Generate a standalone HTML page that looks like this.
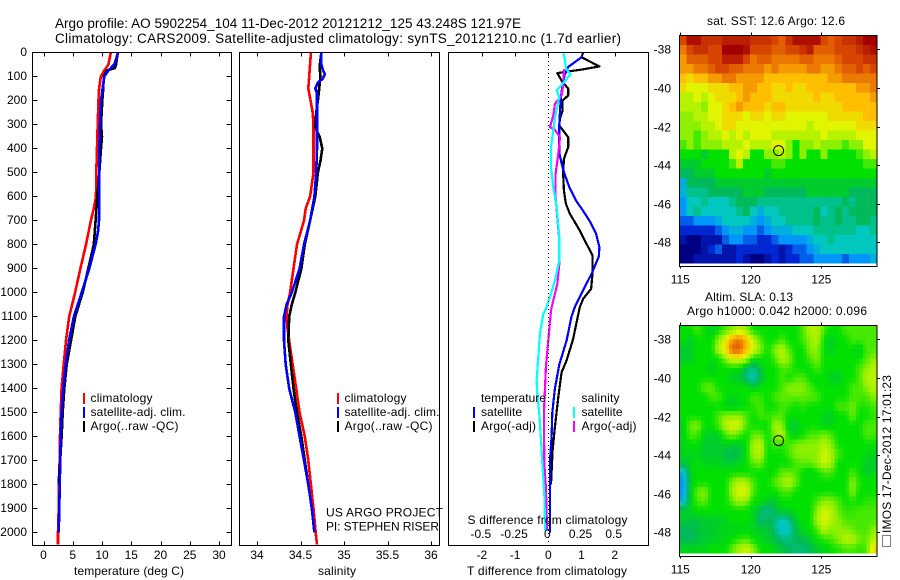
<!DOCTYPE html>
<html>
<head>
<meta charset="utf-8">
<title>Argo profile 5902254_104</title>
<style>
html,body{margin:0;padding:0;background:#fff;}
svg{display:block;font-family:"Liberation Sans",sans-serif;font-size:12px;fill:#000;}
.ttl{font-size:13.5px;}
.frame{fill:none;stroke:#000;stroke-width:1;shape-rendering:crispEdges;}
.tick{stroke:#000;stroke-width:1;shape-rendering:crispEdges;}
.ser{fill:none;stroke-width:2.6;shape-rendering:crispEdges;stroke-linejoin:round;}
.ser-diff{fill:none;stroke-width:2.2;shape-rendering:crispEdges;stroke-linejoin:round;}
</style>
</head>
<body>
<svg id="chart" xmlns="http://www.w3.org/2000/svg" width="900" height="580" viewBox="0 0 900 580">
  <rect x="0" y="0" width="900" height="580" fill="#fff"/>
  <text class="ttl" x="55" y="28" textLength="466">Argo profile: AO 5902254_104 11-Dec-2012 20121212_125 43.248S 121.97E</text>
  <text class="ttl" x="55" y="43" textLength="566">Climatology: CARS2009. Satellite-adjusted climatology: synTS_20121210.nc (1.7d earlier)</text>

  <g id="maps"></g>
  <g id="profiles"></g>
  <g id="axes"></g>

  <rect class="frame" x="32.5" y="52.5" width="199" height="493"/>
  <rect class="frame" x="239.5" y="52.5" width="200" height="493"/>
  <rect class="frame" x="448.5" y="52.5" width="200" height="493"/>
  <rect class="frame" x="679.5" y="35.5" width="197.5" height="231"/>
  <rect class="frame" x="679.5" y="325.5" width="197.5" height="231"/>

  <text x="74" y="575" textLength="110">temperature (deg C)</text>
  <text x="318" y="575" textLength="38">salinity</text>
  <text x="467" y="575" textLength="160">T difference from climatology</text>
  <text x="467.5" y="524" textLength="160">S difference from climatology</text>

  <g>
    <rect x="83" y="393" width="2" height="11" fill="#f00"/>
    <text x="90.5" y="402" textLength="62">climatology</text>
    <rect x="83" y="407" width="2" height="11" fill="#00f"/>
    <text x="90.5" y="416" textLength="95">satellite-adj. clim.</text>
    <rect x="83" y="421" width="2" height="11" fill="#000"/>
    <text x="90.5" y="430" textLength="88">Argo(..raw -QC)</text>
  </g>
  <g>
    <rect x="337" y="393" width="2" height="11" fill="#f00"/>
    <text x="344.5" y="402" textLength="62">climatology</text>
    <rect x="337" y="407" width="2" height="11" fill="#00f"/>
    <text x="344.5" y="416" textLength="95">satellite-adj. clim.</text>
    <rect x="337" y="421" width="2" height="11" fill="#000"/>
    <text x="344.5" y="430" textLength="88">Argo(..raw -QC)</text>
  </g>
  <g>
    <text x="481" y="402" textLength="65">temperature</text>
    <rect x="473" y="407" width="2" height="11" fill="#00f"/>
    <text x="481" y="416" textLength="41">satellite</text>
    <rect x="473" y="421" width="2" height="11" fill="#000"/>
    <text x="481" y="430" textLength="55">Argo(-adj)</text>
    <text x="581.5" y="402" textLength="38">salinity</text>
    <rect x="573" y="407" width="2" height="11" fill="#0ff"/>
    <text x="581.5" y="416" textLength="41">satellite</text>
    <rect x="573" y="421" width="2" height="11" fill="#f0f"/>
    <text x="581.5" y="430" textLength="55">Argo(-adj)</text>
  </g>
  <text x="326" y="516.5" textLength="117">US ARGO PROJECT</text>
  <text x="326" y="530.5" textLength="113">PI: STEPHEN RISER</text>

  <text x="707" y="25" textLength="138">sat. SST: 12.6 Argo: 12.6</text>
  <text x="705" y="301" textLength="88">Altim. SLA: 0.13</text>
  <text x="687" y="315" textLength="180">Argo h1000: 0.042 h2000: 0.096</text>
  <rect x="882.5" y="535.5" width="8" height="11" fill="none" stroke="#000" stroke-width="1" stroke-dasharray="1 1" shape-rendering="crispEdges"/>
  <text transform="translate(891,533) rotate(-90)" textLength="158">IMOS 17-Dec-2012 17:01:23</text>
</svg>
<script>
/* ---------- axis tick labels ---------- */
const depthTicks = [0,100,200,300,400,500,600,700,800,900,1000,1100,1200,1300,1400,1500,1600,1700,1800,1900,2000];
const tempTicks = [0,5,10,15,20,25,30];
const salTicks = [34,34.5,35,35.5,36];
const dtTicks = [-2,-1,0,1,2];
const dsTicks = [-0.5,-0.25,0,0.25,0.5];
const lonTicks = [115,120,125];
const latTicks = [-38,-40,-42,-44,-46,-48];

/* ---------- temperature profiles ---------- */
const climTempDepth = [0,50,75,100,150,200,300,400,500,600,650,700,800,900,1000,1100,1200,1300,1400,1500,1600,1700,1800,1900,2000,2050];
const climTemp = [11.5,11.1,10.4,9.8,9.5,9.4,9.26,9.15,9.03,8.97,8.6,8.1,7.26,6.3,5.4,4.4,3.85,3.45,3.1,2.94,2.82,2.77,2.6,2.6,2.48,2.48];
const satTempDepth = [0,25,50,75,100,150,200,300,400,500,600,700,750,800,900,1000,1100,1200,1300,1400,1500,1600,1700,1800,1900,2000];
const satTemp = [12.7,12.45,12.1,11.1,10.4,10.1,9.83,9.66,9.54,9.54,9.54,9.49,9.3,8.9,7.83,6.53,5.2,4.36,3.8,3.4,3.1,2.94,2.87,2.77,2.7,2.6];
const argoTempDepth = [0,50,65,75,100,150,200,300,350,400,500,600,700,800,900,1000,1100,1200,1300,1400,1500,1600,1800];
const argoTemp = [12.7,12.4,12.2,10.8,10.3,10.2,10.05,9.83,10,9.83,9.54,9.2,8.9,8.6,7.66,6.7,5.44,4.7,3.96,3.55,3.28,3.1,2.6];

/* ---------- salinity profiles ---------- */
const climSalDepth = [0,100,150,190,250,300,500,550,600,650,700,750,800,900,1000,1050,1100,1150,1250,1300,1400,1500,1600,1700,1800,1900,2000,2050];
const climSal = [34.62,34.6,34.59,34.61,34.64,34.65,34.65,34.63,34.61,34.56,34.54,34.5,34.46,34.42,34.38,34.35,34.34,34.35,34.39,34.41,34.45,34.49,34.55,34.59,34.62,34.65,34.675,34.69];
const satSalDepth = [0,50,75,90,110,125,150,170,200,300,400,500,600,700,800,900,1000,1050,1100,1200,1300,1400,1500,1600,1700,1800,1900,2000];
const satSal = [34.74,34.74,34.76,34.78,34.755,34.7,34.67,34.69,34.69,34.69,34.69,34.68,34.66,34.61,34.54,34.49,34.4,34.34,34.31,34.31,34.33,34.37,34.44,34.49,34.54,34.59,34.63,34.66];
const argoSalDepth = [0,60,100,200,250,310,330,350,400,450,500,600,700,800,900,1000,1050,1100,1200,1300,1400,1500,1600,1700,1800,1850];
const argoSal = [34.74,34.72,34.73,34.7,34.68,34.67,34.69,34.72,34.75,34.73,34.7,34.67,34.61,34.55,34.51,34.44,34.4,34.37,34.36,34.39,34.42,34.46,34.51,34.55,34.59,34.61];

/* ---------- difference profiles ---------- */
const satDtDepth = [0,20,40,60,90,130,200,300,420,490,560,620,660,710,755,810,850,920,990,1060,1100,1200,1300,1400,1500,1600,1700,1800,1900,2000];
const satDt = [1.05,1,0.8,0.6,0.5,0.43,0.37,0.33,0.33,0.45,0.63,0.85,1.05,1.28,1.44,1.54,1.52,1.31,1.05,0.8,0.7,0.55,0.33,0.2,0.12,0.1,0.05,0.05,0.05,0.05];
const argoDtDepth = [0,20,58,70,86,117,151,179,200,242,276,304,353,394,443,506,575,631,672,707,742,797,846,922,985,1026,1061,1158,1193,1283,1332,1436,1561,1658,1800];
const argoDt = [1.05,1,1.54,1.05,0.27,0.4,0.6,0.6,0.43,0.43,0.35,0.33,0.6,0.6,0.47,0.45,0.47,0.53,0.65,0.8,0.95,1.15,1.33,1.33,1.29,1.05,0.95,0.8,0.75,0.55,0.4,0.3,0.2,0.13,0.08];
const argoDsDepth = [68,131,179,214,263,311,322,353,422,506,603,686,783,881,964,1033,1075,1200,1311,1506,1714,1811,1922,1990];
const argoDs = [0.118,0.113,0.1,0.05,0.038,0.013,0.05,0.088,0.075,0.055,0.055,0.068,0.083,0.083,0.068,0.038,0.02,0,-0.018,-0.033,-0.03,-0.018,-0.013,-0.008];
const satDsDepth = [0,33,68,89,119,158,186,269,325,394,478,561,644,769,867,950,1019,1068,1090,1172,1269,1367,1422,1506,1617,1728,1839,1992];
const satDs = [0.113,0.126,0.133,0.168,0.126,0.063,0.083,0.05,0.038,0.02,0.02,0.038,0.063,0.083,0.083,0.05,0.013,-0.018,-0.038,-0.063,-0.075,-0.088,-0.083,-0.068,-0.055,-0.043,-0.03,-0.023];

/* ---------- map values (colour level per 0.5 deg cell, north to south) ---------- */
const sstLevels = [
[10,11.5,11.5,10.5,10.5,10.5,11,11,11,11,10.5,10.5,10.5,10,9.5,10.5,11.5,11.5,11.5,11.5,10,9.5,10,10.5,10.5,11,12,12],
[9,10,10.5,10.5,10,10,12,12,12,11.5,10,10,10,9.5,9.5,10,10,10.5,11,9.5,9.5,9.5,10,10,10,10.5,11,11.5],
[8.5,9.5,9.5,9.5,10,10,11,11,11,10,9,9.5,9.5,9,9,9,9,9.5,9.5,9,9,9,9.5,10,10,10,10.5,10.5],
[8.5,8.5,9,9,9.5,10,10,9.5,9.5,9,9,9,8.5,9,8.5,8.5,8.5,8.5,9,9,8.5,8.5,9,9.5,9.5,10,9.5,10],
[8,7.5,8,8,8.5,8.5,9,9,8.5,8.5,8.5,8.5,8,8,8,8,8,8,8,8,8,8.5,8.5,9,9,9,9,9],
[7.5,7,7,7,7.5,7.5,7.5,8,8,8.5,8.5,8,8,7.5,7.5,8,7.5,7.5,8,8,8,8,8,8,8,8.5,8.5,9],
[6.5,6.5,7,6.5,7,7.5,7.5,7.5,8,8.5,8,8,8,7.5,7.5,7.5,7.5,7.5,7.5,8,7.5,7.5,8,8,8,8,8,8.5],
[6.5,6.5,6.5,6,7,7,7.5,8,8.5,8,8,8,7.5,8,8,7.5,7.5,7.5,7.5,7.5,7.5,7.5,7.5,8,8,8,8,8],
[6,6,6.5,6.5,7,7,7.5,7.5,7.5,7,7.5,7.5,7,7.5,7.5,7,7,7,7,7,7,7.5,7.5,7.5,7.5,7.5,8,8],
[6,6,6,6.5,6.5,7,7.5,7.5,7,7,7,7,7,7,7,7,7,7,6.5,7,7,7,7,7,7,7.5,7.5,7.5],
[6,6,5.5,6,6.5,6.5,7,6.5,7,6.5,7,7,7,6.5,6.5,6.5,6.5,6.5,6.5,6.5,7,6.5,6.5,6.5,6.5,7,7,7],
[5.5,6,5.5,6,6,6,6.5,6.5,6.5,7,6.5,6.5,6.5,7,7,6,5,6,6,6.5,6,6,6,5.5,6,6,7,7],
[5,5,5,4.5,5,5,5,6.5,7,6.5,5,5,6,6,6.5,6,5,6,5,5,6,5,5,5,5,5.5,6,6.5],
[4.5,4.5,4.5,5,5,5,5,5.5,6.5,5,5,5,5,5.5,5.5,5,5,5,5,5,5,5,5,5,5,5,5.5,5.5],
[4,4,4.5,4.5,4.5,5,5,5,5,5,5,5,4.5,5,5,5,5,5,5,5,5,5,5,5,5,5,5,5],
[2.5,4,4,4,4,4.5,4.5,4.5,4.5,4.5,4.5,4.5,4.5,4.5,4.5,4.5,4.5,4.5,4.5,4.5,4.5,4.5,4.5,4.5,4.5,4.5,4.5,4.5],
[2.5,3.5,3.5,3.5,4,4,4,4,4,4.5,4.5,4.5,4,4,4,4,4,4,4.5,4.5,4.5,4.5,4.5,4.5,4,4,4,4],
[2,3,3,3.5,3,3,3,3.5,4,4,4,3.5,3.5,3.5,3.5,3.5,3.5,3.5,3.5,3.5,3.5,3.5,3.5,4,3.5,4,4,4],
[2,3,3.5,3,3,3,3,3,3.5,4,3,2.5,3,3,3.5,3.5,3.5,3.5,3.5,4,3,3.5,4,3.5,4,4,4,4],
[1.5,1.5,2,2,2,2.5,3,3,3,3,2.5,2,2.5,3,3,3.5,3.5,3.5,3.5,4,3.5,3.5,4,3.5,3.5,4,4,3.5],
[1,1,1,1,1,1.5,2,2.5,2.5,2,2,1.5,2,2.5,2.5,2.5,3,3,3,3.5,3.5,3.5,3.5,3.5,3.5,3,3,3.5],
[0.5,0,0,0.5,0.5,0.5,1.5,2,2,1.5,1.5,1,1,1.5,2,2,2,2,2.5,3,3,3.5,3,3,3,3,3,3],
[0,0,0,0.5,1,1.5,0.5,0.5,1,1,1,1,1,1,0.5,1,1.5,1.5,2,2.5,3,3,3,3,3,3,3,3],
[0,0,0.5,0.5,0.5,0.5,0.5,0.5,1,0.5,0,0,0.5,1,0.5,1,1,1.5,1.5,2,2,2,2,1.5,2,2,2,2.5]
];
const slaLevels = [
[5,5,5.5,5,4.5,5,5.5,6,6.5,6,5,5,5,5,5,5,5,5.5,6.5,6.5,5.5,5,5,5.5,5.5,5.5,5.5,5.5],
[5,4.5,5,5,5,6,7,8.5,9,8,6.5,5.5,5,5,5.5,5,5,5.5,6,6.5,5,4.5,5,5,5.5,5.5,5.5,5.5],
[4.5,4.5,5,5,5,6.5,7.5,9.5,9.5,8,7,6,5,6,6.5,5.5,5,5,6,6,5,4.5,5,5,5,4.5,5.5,5.5],
[4.5,4.5,5,5,5,5,6,7,7,6.5,5,5,5,5.5,6.5,6,5,5,5.5,6,5,5,5,5,5,5,5.5,6],
[5,5,5,5,4.5,5,5,5,5,4,3.5,4.5,5,5,5.5,5.5,5,5,5,5.5,5,5,5,5,5,5.5,6,6.5],
[5,5,5,5,5,5,5,4.5,4.5,3.5,3,4,5,5,5.5,5,5.5,5.5,5,5,5,4.5,4.5,5,5,5.5,6.5,6.5],
[5,5,5,5.7,5.7,5,5,5,5,5,4.5,5,5,5,5.5,6,6,6,5.5,5,5,5,5,5,5.5,5.5,6,6.5],
[5,5,5,5,5.5,5.5,5,4.7,5,5,5.5,5.3,5,5.5,5.7,5.7,5.7,5.7,5.7,5.5,5,5,5,5,5.5,5.5,5.5,6],
[5,5,5,5,5,5,4.7,4.5,4.7,5,5.3,5.5,5,5,5.5,5.3,5,5.3,5,5,5,5,5.5,5.5,5.8,5.2,5.2,5.5],
[5,5,5,5,5,5.5,6,6,6,5.5,5,5.5,5.3,5.5,5.5,5,5,5,5,5,4.7,4.5,5,5,5.8,5,5,5.3],
[4.7,5.7,6,5,5,5.5,6.5,7,6.8,5.5,5,5,5,6.3,6,4.5,4.5,5,5,5,4.7,4.7,5,5,5,5,5.5,5.5],
[4.7,5.5,5.5,4.7,4.5,4.7,5.5,6,5.5,5,5.7,5.7,5,6,6.5,5,4.7,5,5.5,5.5,5.8,5.5,5,5,5,5,5.5,5.5],
[4.7,5,5,4.5,4.5,4.5,4.7,4.5,4.5,5,6.3,6.5,5,5.5,5.3,5.5,5.8,6,6,6,6.5,6,5,5,5,5,5,5],
[4.7,4.7,4.7,4.5,4.5,4.5,4.2,4,4.2,5,6.3,6.5,5,5,5,5.5,6,6,6,6,6.8,6.3,5.5,5,5,5,4.8,4.7],
[4.3,4.7,5,4.7,4.7,4.7,4.5,4.5,4.7,5,5.7,5.8,5,5,5,5,5.5,5.7,5.7,6,6.8,6.3,5,5,5,5,4.5,4.5],
[2.5,4.5,5,5,5,5,5,5,5,5,5,5,5,5,5.7,5.7,5.5,5,4.7,5,5.5,5.5,5,5,5.5,5,4.5,4.7],
[2,4.5,5,5,5,5,5,6,6.5,6.3,5.5,5,5,5.7,6,6.5,5.7,5,5,5,5,5,5,5,6,5.2,5,5],
[2,4.5,5.7,6,5,5,5,6.3,7,7,5.5,5,5,5,5.5,5.5,5,5,5,5,5,5,5,5,6,5,5,5],
[2.5,4.5,5.5,5.7,5,5,5,5.7,6.3,6,5,5,4.5,4.5,5,5,5,5,5,5.5,6,6,5.5,5,5.2,5,5.3,5.3],
[4.5,4.7,5,5,5,5,5,5,5,5,4.7,4,3.5,4.2,4.7,4.7,5,5,5,6,6.8,6.5,5.7,5.3,5.3,5.5,5.5,5.5],
[4.5,4.3,4.3,4.5,4.5,4.5,4.7,5,5,5,4.7,3.7,4,3.7,3,3.5,4.5,5,5,6.3,7,6.5,6,5.5,5.5,5.5,5.5,5.5],
[4,4,4.2,4.5,4.5,4.7,4.7,4.7,4.7,4.7,4.7,4.5,4.5,3.7,2.5,3,4.2,4.7,5,5.5,6.5,6,6,6,5.7,5.5,5.5,6],
[4,4,4.2,4.5,4.5,4.7,4.7,5,5.3,5.5,5,4.7,4.5,4.2,3.7,3.7,4,4.2,4.5,5,5.3,5.5,6,6.5,6.5,5.8,5.7,6.5],
[4.7,4.7,4.7,4.7,5,5,5,5.7,6.3,6.8,6,5,5,4.7,4.3,4,3.7,3.7,4,4.5,4.7,5,5.2,5.5,5.5,5.3,5.5,7.5]
];
const argoLon = [121.97];
const argoLat = [-43.248];

/* ---------- scales ---------- */
const NS = 'http://www.w3.org/2000/svg';
const yDepth = d => 52.5 + 0.24 * d;
const xTemp = t => 43.5 + 5.85 * t;
const xSal = s => 257 + 87 * (s - 34);
const xDt = t => 548.3 + 33.2 * t;
const xDs = s => 548.3 + 132.8 * s;
const lonX = lon => 680.3 + 14.1 * (lon - 115);
const latY = (lat, top) => top + 14 + 19.3 * (-38 - lat);
const SST_TOP = 35.3;
const SLA_TOP = 325.3;

const levelStops = [[0,0,130],[0,40,210],[0,150,250],[0,200,190],[0,185,90],[0,225,0],[140,240,0],[225,245,0],[255,190,0],[235,120,0],[215,70,0],[185,30,0],[160,0,0]];
function levelColor(v) {
  const l = Math.max(0, Math.min(12, v));
  const i = Math.min(11, Math.floor(l));
  const f = l - i;
  const a = levelStops[i];
  const b = levelStops[i + 1];
  return 'rgb(' + a.map((c, k) => Math.round(c + (b[k] - c) * f)).join(',') + ')';
}
function mk(parent, tag, attrs, txt) {
  const el = document.createElementNS(NS, tag);
  for (const k in attrs) el.setAttribute(k, attrs[k]);
  if (txt !== undefined) el.textContent = txt;
  parent.appendChild(el);
  return el;
}
const profilesG = document.getElementById('profiles');
const axesG = document.getElementById('axes');
const mapsG = document.getElementById('maps');

function drawSeries(name, color, depths, values, xf, cls) {
  const pts = values.map((v, i) => xf(v).toFixed(1) + ',' + yDepth(depths[i]).toFixed(1)).join(' ');
  const el = mk(profilesG, 'polyline', {class: cls, stroke: color, points: pts});
  
  
}
function tick(x1, y1, x2, y2) {
  const el = mk(axesG, 'line', {class: 'tick', x1: x1, y1: y1, x2: x2, y2: y2});
  
  
}
function label(x, y, anchor, s) {
  const el = mk(axesG, 'text', {x: x, y: y, 'text-anchor': anchor}, s);
  
  
}

/* profile panels */
drawSeries('temperature-climatology-line', '#f00', climTempDepth, climTemp, xTemp, 'ser');
drawSeries('temperature-argo-line', '#000', argoTempDepth, argoTemp, xTemp, 'ser');
drawSeries('temperature-satellite-line', '#00f', satTempDepth, satTemp, xTemp, 'ser');
drawSeries('salinity-climatology-line', '#f00', climSalDepth, climSal, xSal, 'ser');
drawSeries('salinity-argo-line', '#000', argoSalDepth, argoSal, xSal, 'ser');
drawSeries('salinity-satellite-line', '#00f', satSalDepth, satSal, xSal, 'ser');
drawSeries('t-difference-argo-line', '#000', argoDtDepth, argoDt, xDt, 'ser-diff');
drawSeries('t-difference-satellite-line', '#00f', satDtDepth, satDt, xDt, 'ser-diff');
drawSeries('s-difference-argo-line', '#f0f', argoDsDepth, argoDs, xDs, 'ser-diff');
drawSeries('s-difference-satellite-line', '#0ff', satDsDepth, satDs, xDs, 'ser-diff');

const zeroLine = mk(profilesG, 'line', {x1: xDt(0), x2: xDt(0), y1: 53, y2: 545, stroke: '#000', 'stroke-width': 1, 'stroke-dasharray': '1 3', 'shape-rendering': 'crispEdges'});



/* depth axis */
depthTicks.forEach(d => {
  const y = Math.floor(yDepth(d)) + 0.5;
  tick(32.5, y, 37.5, y);
  tick(226.5, y, 231.5, y);
  label(27, y + 3.5, 'end', String(d));
});
/* temperature axis */
tempTicks.forEach(t => {
  const x = Math.round(xTemp(t)) + 0.5;
  tick(x, 52.5, x, 56.5);
  tick(x, 541.5, x, 545.5);
  label(xTemp(t), 559, 'middle', String(t));
});
/* salinity axis */
salTicks.forEach(s => {
  const x = Math.round(xSal(s)) + 0.5;
  tick(x, 52.5, x, 56.5);
  tick(x, 541.5, x, 545.5);
  label(xSal(s), 559, 'middle', String(s));
});
/* difference axes */
dtTicks.forEach(t => {
  const x = Math.round(xDt(t)) + 0.5;
  tick(x, 52.5, x, 56.5);
  label(xDt(t), 559, 'middle', String(t));
});
dsTicks.forEach(s => {
  label(xDs(s) - 1, 538, 'middle', String(s));
});

/* maps: sub = sub-cells per source cell, blended between neighbouring values */
function sampleLevel(levels, rf, cf) {
  const nRows = levels.length;
  const nCols = levels[0].length;
  const r = Math.max(0, Math.min(nRows - 1, rf));
  const c = Math.max(0, Math.min(nCols - 1, cf));
  const r0 = Math.floor(r);
  const c0 = Math.floor(c);
  const r1 = Math.min(nRows - 1, r0 + 1);
  const c1 = Math.min(nCols - 1, c0 + 1);
  const fr = r - r0;
  const fc = c - c0;
  return (levels[r0][c0] * (1 - fc) + levels[r0][c1] * fc) * (1 - fr) + (levels[r1][c0] * (1 - fc) + levels[r1][c1] * fc) * fr;
}
function drawMap(levels, top, prefix, sub) {
  const nRows = levels.length;
  const nCols = levels[0].length;
  const lonStart = 114.95;
  const lonStep = 14 / nCols;
  const latStart = -37.28;
  const latStep = 11.81 / nRows;
  for (let r = 0; r < nRows * sub; r++) {
    for (let c = 0; c < nCols * sub; c++) {
      const v = sub === 1 ? levels[r][c] : sampleLevel(levels, (r + 0.5) / sub - 0.5, (c + 0.5) / sub - 0.5);
      const x0 = lonX(lonStart + c * lonStep / sub);
      const x1 = lonX(lonStart + (c + 1) * lonStep / sub);
      const y0 = latY(latStart - r * latStep / sub, top);
      const y1 = latY(latStart - (r + 1) * latStep / sub, top);
      const cell = mk(mapsG, 'rect', {x: x0.toFixed(2), y: y0.toFixed(2), width: (x1 - x0 + 0.4).toFixed(2), height: (y1 - y0 + 0.4).toFixed(2), fill: levelColor(v), 'shape-rendering': 'crispEdges'});
      
      
    }
  }
}
drawMap(sstLevels, SST_TOP, 'sst', 1);
drawMap(slaLevels, SLA_TOP, 'sla', 2);

[SST_TOP, SLA_TOP].forEach(top => {
  const bottom = top + 231;
  lonTicks.forEach(lon => {
    const x = Math.round(lonX(lon)) + 0.5;
    tick(x, top - 3, x, top);
    tick(x, bottom, x, bottom + 2);
    label(lonX(lon), bottom + 17, 'middle', String(lon));
  });
  latTicks.forEach(lat => {
    const y = Math.round(latY(lat, top)) + 0.5;
    tick(877, y, 880, y);
    label(671, y + 4, 'end', '-' + Math.abs(lat));
  });
  const marker = mk(axesG, 'circle', {cx: lonX(argoLon[0]), cy: latY(argoLat[0], top), r: 5, fill: 'none', stroke: '#000', 'stroke-width': 1});
  
  
});
</script>
</body>
</html>
